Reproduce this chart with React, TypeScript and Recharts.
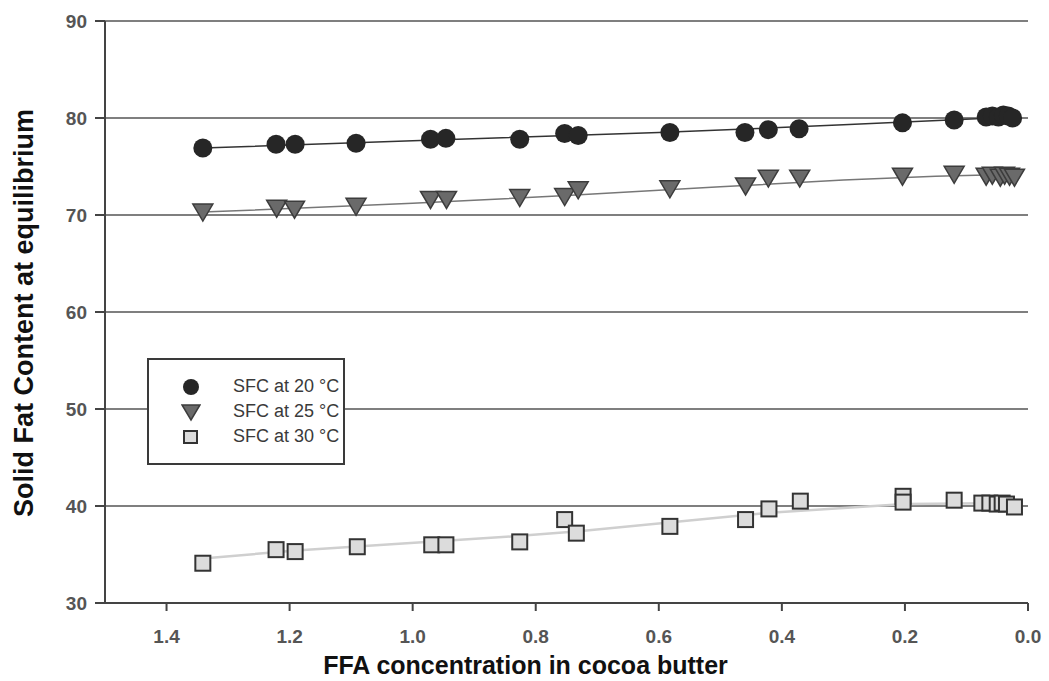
import React from "react";
import {
  ScatterChart,
  Scatter,
  XAxis,
  YAxis,
  CartesianGrid,
  Legend,
  Label,
} from "recharts";

const xTicks = [1.4, 1.2, 1.0, 0.8, 0.6, 0.4, 0.2, 0.0];
const yTicks = [30, 40, 50, 60, 70, 80, 90];

const sfc20X = [1.341, 1.222, 1.191, 1.092, 0.971, 0.946, 0.826, 0.753, 0.731, 0.582, 0.46, 0.422, 0.372, 0.204, 0.12, 0.068, 0.058, 0.048, 0.04, 0.032, 0.025];
const sfc20Y = [76.9, 77.3, 77.3, 77.4, 77.8, 77.9, 77.8, 78.4, 78.2, 78.5, 78.5, 78.8, 78.9, 79.5, 79.8, 80.1, 80.2, 80.1, 80.3, 80.2, 80.0];

const sfc25X = [1.341, 1.221, 1.192, 1.092, 0.971, 0.945, 0.826, 0.753, 0.731, 0.582, 0.459, 0.422, 0.371, 0.204, 0.12, 0.068, 0.058, 0.045, 0.038, 0.03, 0.022];
const sfc25Y = [70.3, 70.7, 70.6, 70.9, 71.6, 71.6, 71.8, 71.9, 72.6, 72.7, 73.0, 73.8, 73.8, 74.0, 74.2, 74.0, 74.1, 73.9, 74.1, 74.0, 73.9];

const sfc30X = [1.341, 1.222, 1.191, 1.09, 0.969, 0.946, 0.826, 0.753, 0.734, 0.582, 0.459, 0.421, 0.37, 0.203, 0.203, 0.12, 0.075, 0.062, 0.05, 0.042, 0.035, 0.022];
const sfc30Y = [34.1, 35.5, 35.3, 35.8, 36.0, 36.0, 36.3, 38.6, 37.2, 37.9, 38.6, 39.7, 40.5, 41.0, 40.4, 40.6, 40.3, 40.3, 40.2, 40.3, 40.2, 39.9];

const fit20X = [1.341, 1.0, 0.6, 0.3, 0.02];
const fit20Y = [76.9, 77.65, 78.5, 79.3, 80.1];
const fit25X = [1.341, 1.0, 0.75, 0.5, 0.3, 0.15, 0.02];
const fit25Y = [70.3, 71.2, 72.0, 72.9, 73.6, 74.0, 74.2];
const fit30X = [1.341, 1.19, 0.83, 0.73, 0.42, 0.2, 0.02];
const fit30Y = [34.6, 35.4, 36.9, 37.4, 39.3, 40.2, 40.3];

const seriesNames = ["SFC at 20 °C", "SFC at 25 °C", "SFC at 30 °C"];

const zip = (xs: number[], ys: number[]) => xs.map((x, i) => ({ x, y: ys[i] }));

const d20 = zip(sfc20X, sfc20Y);
const d25 = zip(sfc25X, sfc25Y);
const d30 = zip(sfc30X, sfc30Y);
const f20 = zip(fit20X, fit20Y);
const f25 = zip(fit25X, fit25Y);
const f30 = zip(fit30X, fit30Y);

const FONT = "'Liberation Sans', Arial, Helvetica, sans-serif";

const CircleShape = (p: any) => <circle cx={p.cx} cy={p.cy} r={9.5} fill="#262626" />;
const TriShape = (p: any) => (
  <polygon
    points={`${p.cx - 10},${p.cy - 8} ${p.cx + 10},${p.cy - 8} ${p.cx},${p.cy + 9}`}
    fill="#6a6a6a"
    stroke="#3c3c3c"
    strokeWidth={1.5}
  />
);
const SquareShape = (p: any) => (
  <rect x={p.cx - 7.5} y={p.cy - 7.5} width={15} height={15} fill="#dcdcdc" stroke="#333" strokeWidth={2} />
);
const NoShape = () => <g />;

const markerIcon = (i: number) => {
  if (i === 0) return <circle cx={10} cy={10} r={8} fill="#262626" />;
  if (i === 1) return <polygon points="1,3 19,3 10,18" fill="#6a6a6a" stroke="#3c3c3c" strokeWidth={1.5} />;
  return <rect x={3} y={4} width={13} height={12} fill="#dcdcdc" stroke="#333" strokeWidth={2} />;
};

const LegendBox = () => (
  <div
    style={{
      boxSizing: "border-box",
      width: 198,
      height: 107,
      border: "2px solid #3a3a3a",
      background: "#fff",
      padding: "14px 0 0 32px",
      fontFamily: FONT,
      fontSize: 18,
      color: "#3a3a3a",
    }}
  >
    {seriesNames.map((n, i) => (
      <div key={n} style={{ display: "flex", alignItems: "center", height: 25 }}>
        <svg width={20} height={20} style={{ marginRight: 32 }}>
          {markerIcon(i)}
        </svg>
        <span>{n}</span>
      </div>
    ))}
  </div>
);

const tickStyle = { fontFamily: FONT, fontSize: 19, fontWeight: 700, fill: "#555" };

export default function App() {
  return (
    <div style={{ position: "absolute", left: 0, top: 0, background: "#fff" }}>
      <ScatterChart width={1049} height={681} margin={{ top: 21, right: 21, left: 0, bottom: 0 }}>
        <CartesianGrid vertical={false} stroke="#555" strokeWidth={1.5} />
        <XAxis
          type="number"
          dataKey="x"
          domain={[0, 1.5]}
          reversed
          ticks={xTicks}
          tickFormatter={(v: number) => v.toFixed(1)}
          height={78}
          tickSize={8}
          tickMargin={19}
          stroke="#444"
          strokeWidth={2}
          tick={tickStyle}
          allowDataOverflow
        >
          <Label
            content={(props: any) => {
              const vb = props.viewBox;
              return (
                <text
                  x={vb.x + vb.width / 2 - 41}
                  y={vb.y + 71}
                  textAnchor="middle"
                  fontFamily={FONT}
                  fontSize={25}
                  fontWeight={700}
                  fill="#111"
                >
                  FFA concentration in cocoa butter
                </text>
              );
            }}
          />
        </XAxis>
        <YAxis
          type="number"
          dataKey="y"
          domain={[30, 90]}
          ticks={yTicks}
          width={105}
          tickSize={10}
          tickMargin={8}
          stroke="#444"
          strokeWidth={2}
          tick={tickStyle}
          allowDataOverflow
        >
          <Label
            content={(props: any) => {
              const vb = props.viewBox;
              const cx = 33;
              const cy = vb.y + vb.height / 2 + 1;
              return (
                <text
                  x={cx}
                  y={cy}
                  transform={`rotate(-90 ${cx} ${cy})`}
                  textAnchor="middle"
                  fontFamily={FONT}
                  fontSize={27}
                  fontWeight={700}
                  fill="#111"
                >
                  Solid Fat Content at equilibrium
                </text>
              );
            }}
          />
        </YAxis>
        <Legend
          layout="vertical"
          align="center"
          verticalAlign="middle"
          content={<LegendBox />}
          wrapperStyle={{ left: 147, top: 358, width: 198, height: 107 }}
        />
        <Scatter data={f30} shape={NoShape} line={{ stroke: "#cfcfcf", strokeWidth: 2.5 }} legendType="none" isAnimationActive={false} />
        <Scatter data={f25} shape={NoShape} line={{ stroke: "#777", strokeWidth: 1.5 }} legendType="none" isAnimationActive={false} />
        <Scatter data={f20} shape={NoShape} line={{ stroke: "#333", strokeWidth: 1.5 }} legendType="none" isAnimationActive={false} />
        <Scatter name={seriesNames[0]} data={d20} shape={CircleShape} isAnimationActive={false} />
        <Scatter name={seriesNames[1]} data={d25} shape={TriShape} isAnimationActive={false} />
        <Scatter name={seriesNames[2]} data={d30} shape={SquareShape} isAnimationActive={false} />
      </ScatterChart>
    </div>
  );
}
